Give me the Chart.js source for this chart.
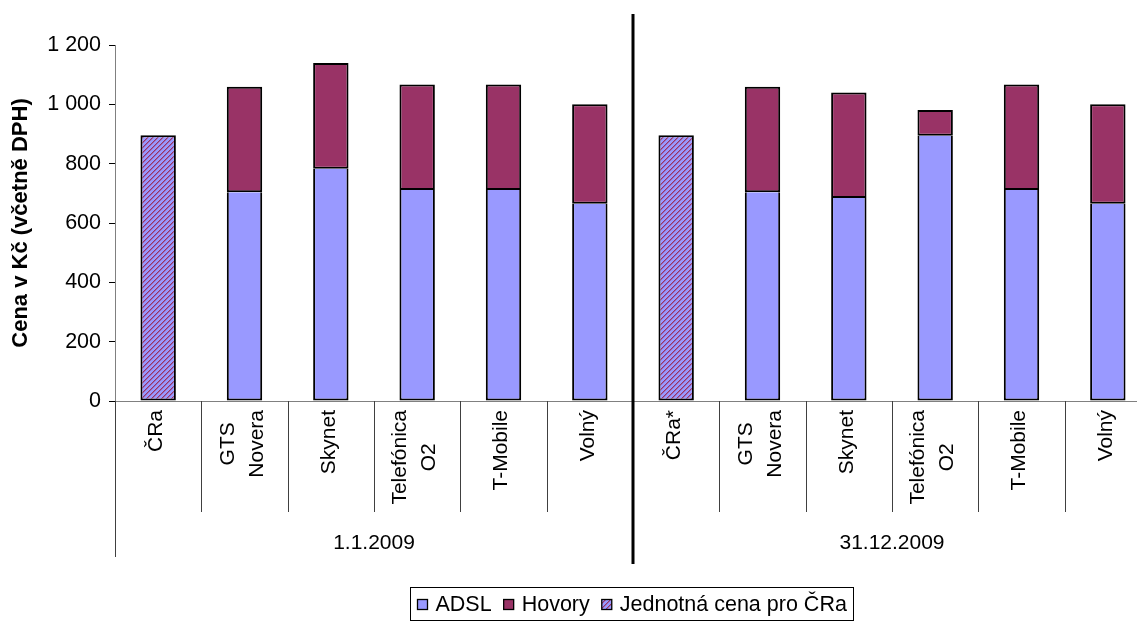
<!DOCTYPE html>
<html>
<head>
<meta charset="utf-8">
<script src="https://cdn.jsdelivr.net/npm/chart.js@4.4.1/dist/chart.umd.min.js"></script>
<style>
  html, body { margin: 0; padding: 0; background: #fff; overflow: hidden; }
  #wrap { width: 1152px; height: 623px; position: relative; }
</style>
</head>
<body>
<div id="wrap"><canvas id="chart"></canvas></div>
<script>
// categories (multi-line labels as arrays)
const categories = [
  ['ČRa'], ['GTS', 'Novera'], ['Skynet'], ['Telefónica', 'O2'], ['T-Mobile'], ['Volný'],
  ['ČRa*'], ['GTS', 'Novera'], ['Skynet'], ['Telefónica', 'O2'], ['T-Mobile'], ['Volný']
];
const groups = ['1.1.2009', '31.12.2009'];
const perGroup = 6;

// values in Kč
const adsl     = [null, 704, 783, 711, 711, 665, null, 704, 684, 894, 711, 665];
const hovory   = [null, 355, 356, 356, 356, 335, null, 355, 356,  87, 356, 335];
const jednotna = [896, null, null, null, null, null, 896, null, null, null, null, null];

const yMax = 1200;
const yStep = 200;
const yTitle = 'Cena v Kč (včetně DPH)';
const seriesNames = ['ADSL', 'Hovory', 'Jednotná cena pro ČRa'];

const FONT = 'Arial, "Liberation Sans", sans-serif';
const canvas = document.getElementById('chart');
const ctx0 = canvas.getContext('2d');

// hatched fill for the ČRa bars, pixel stripes like the Excel pattern
function stripes() {
  const s = 5;
  const c = document.createElement('canvas');
  c.width = s; c.height = s;
  const g = c.getContext('2d');
  g.fillStyle = '#9999FF';
  g.fillRect(0, 0, s, s);
  for (let i = 0; i < s; i++) {
    g.fillStyle = '#993366';
    g.fillRect(i, s - 1 - i, 1, 1);
    g.fillStyle = '#9966B3';
    g.fillRect(i, (s - i) % s, 1, 1);
  }
  return ctx0.createPattern(c, 'repeat');
}
const hatch = stripes();
const colors = ['#9999FF', '#993366', hatch];

const axisDecor = {
  id: 'axisDecor',
  afterDraw(chart) {
    const { ctx, chartArea } = chart;
    const x = chart.scales.x;
    const base = chartArea.bottom;
    const step = x.getPixelForValue(1) - x.getPixelForValue(0);
    ctx.save();

    // category separators below the axis
    ctx.strokeStyle = '#404040';
    ctx.lineWidth = 1;
    for (let i = 0; i <= categories.length; i++) {
      if (i === perGroup) continue;
      const px = Math.round(x.getPixelForValue(i) - step / 2) + 0.5;
      const edge = i % perGroup === 0;
      ctx.beginPath();
      ctx.moveTo(px, base);
      ctx.lineTo(px, base + (edge ? 156 : 111));
      ctx.stroke();
    }

    // rotated category labels
    ctx.font = '21px ' + FONT;
    ctx.fillStyle = '#000';
    categories.forEach((lines, i) => {
      const cx = x.getPixelForValue(i) - 2;
      const w = Math.max(...lines.map(l => ctx.measureText(l).width));
      ctx.save();
      ctx.translate(cx, base + 9 + w / 2);
      ctx.rotate(-Math.PI / 2);
      ctx.textAlign = 'center';
      ctx.textBaseline = 'middle';
      lines.forEach((l, k) => ctx.fillText(l, 0, (k - (lines.length - 1) / 2) * 29));
      ctx.restore();
    });

    // group labels
    ctx.textAlign = 'center';
    ctx.textBaseline = 'middle';
    groups.forEach((g, j) => {
      const a = x.getPixelForValue(j * perGroup) - step / 2;
      const b = x.getPixelForValue((j + 1) * perGroup - 1) + step / 2;
      ctx.fillText(g, (a + b) / 2, 543);
    });

    // thick divider between the two dates
    const mid = x.getPixelForValue(perGroup) - step / 2;
    ctx.strokeStyle = '#000';
    ctx.lineWidth = 3;
    ctx.beginPath();
    ctx.moveTo(mid, 14);
    ctx.lineTo(mid, 564);
    ctx.stroke();

    // legend box
    ctx.font = '21.5px ' + FONT;
    ctx.textAlign = 'left';
    const box = 10, gapIn = 8, gapOut = 12, pad = 7;
    const widths = seriesNames.map(n => box + gapIn + ctx.measureText(n).width);
    const total = widths.reduce((a, b) => a + b, 0) + gapOut * (widths.length - 1);
    const lw = Math.round(total + pad * 2);
    const lx = Math.round(631 - lw / 2) + 0.5;
    const ly = 587.5, lh = 33;
    ctx.lineWidth = 1;
    ctx.strokeStyle = '#000';
    ctx.fillStyle = '#fff';
    ctx.fillRect(lx, ly, lw, lh);
    ctx.strokeRect(lx, ly, lw, lh);
    let cur = lx + pad;
    seriesNames.forEach((n, k) => {
      const by = Math.round(ly + lh / 2 - box / 2) + 0.5;
      ctx.fillStyle = colors[k];
      ctx.fillRect(cur, by, box, box);
      ctx.strokeStyle = '#000';
      ctx.lineWidth = 1.3;
      ctx.strokeRect(cur, by, box, box);
      ctx.fillStyle = '#000';
      ctx.fillText(n, cur + box + gapIn, ly + lh / 2 + 1);
      cur += widths[k] + gapOut;
    });
    ctx.restore();
  }
};

new Chart(canvas, {
  type: 'bar',
  data: {
    labels: categories.map(c => c.join(' ')),
    datasets: [
      { label: seriesNames[0], data: adsl, backgroundColor: colors[0],
        borderWidth: { left: 2, right: 2, bottom: 2, top: 0 } },
      { label: seriesNames[1], data: hovory, backgroundColor: colors[1],
        borderWidth: { left: 2, right: 2, bottom: 2, top: 2 } },
      { label: seriesNames[2], data: jednotna, backgroundColor: colors[2], borderWidth: 2 }
    ]
  },
  options: {
    responsive: true,
    maintainAspectRatio: false,
    animation: false,
    datasets: {
      bar: {
        stack: 'a',
        categoryPercentage: 1,
        barPercentage: 0.41,
        borderColor: '#000',
        borderSkipped: false
      }
    },
    layout: { padding: { top: 45, right: 1, left: 0, bottom: 0 } },
    plugins: {
      legend: { display: false },
      tooltip: { enabled: false }
    },
    scales: {
      x: {
        stacked: true,
        offset: true,
        grid: { display: false },
        border: { display: true, color: '#808080', width: 1 },
        ticks: { display: false },
        afterFit: s => { s.height = 222; }
      },
      y: {
        stacked: true,
        min: 0,
        max: yMax,
        ticks: {
          stepSize: yStep,
          padding: 8,
          color: '#000',
          font: { family: FONT, size: 21.5 },
          callback: v => v >= 1000 ? Math.floor(v / 1000) + ' ' + String(v % 1000).padStart(3, '0') : String(v)
        },
        grid: { display: true, drawOnChartArea: false, drawTicks: true, tickLength: 6, color: '#000' },
        border: { display: true, color: '#808080', width: 1 },
        title: {
          display: true,
          text: yTitle,
          color: '#000',
          font: { family: FONT, size: 22, weight: 'bold' },
          padding: { top: 8, bottom: 0 }
        },
        afterFit: s => { s.width = 115; }
      }
    }
  },
  plugins: [axisDecor]
});
</script>
</body>
</html>
